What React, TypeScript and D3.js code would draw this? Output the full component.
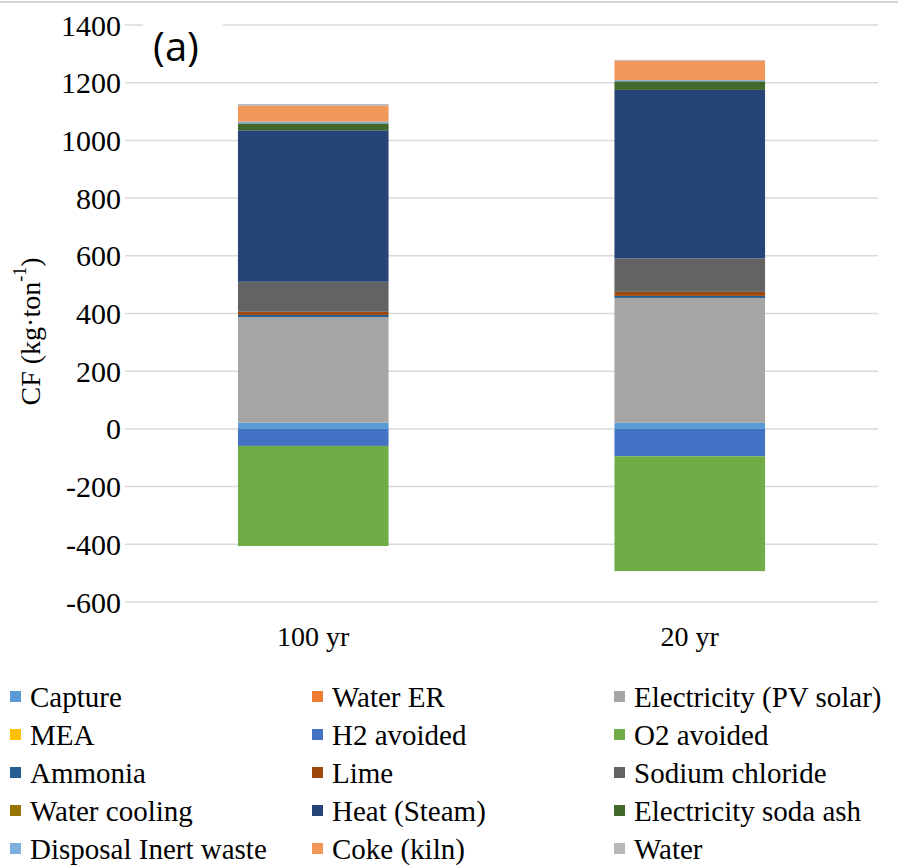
import React from "react";
import * as d3 from "d3";

// Scenarios (time horizons)
const categories = ["100 yr", "20 yr"];

// Contributors in stacking order, with their legend colours
const seriesNames = [
  "Capture",
  "Water ER",
  "Electricity (PV solar)",
  "MEA",
  "H2 avoided",
  "O2 avoided",
  "Ammonia",
  "Lime",
  "Sodium chloride",
  "Water cooling",
  "Heat (Steam)",
  "Electricity soda ash",
  "Disposal Inert waste",
  "Coke (kiln)",
  "Water",
];

const seriesColors = [
  "#5B9BD5",
  "#ED7D31",
  "#A5A5A5",
  "#FFC000",
  "#4472C4",
  "#70AD47",
  "#255E91",
  "#9E480E",
  "#636363",
  "#997300",
  "#264478",
  "#43682B",
  "#7CAFDD",
  "#F1975A",
  "#B7B7B7",
];

// CF contributions (kg·ton-1), one entry per scenario
const capture = [22, 21];
const waterER = [0, 0];
const electricityPV = [366, 433];
const mea = [0, 0];
const h2Avoided = [-59, -95];
const o2Avoided = [-347, -398];
const ammonia = [7, 7];
const lime = [11, 14];
const sodiumChloride = [104, 116];
const waterCooling = [0, 0];
const heatSteam = [525, 584];
const electricitySodaAsh = [24, 30];
const disposalInertWaste = [6, 4];
const cokeKiln = [55, 67];
const water = [6, 3];

const yTicks = [-600, -400, -200, 0, 200, 400, 600, 800, 1000, 1200, 1400];

const seriesValues = [
  capture,
  waterER,
  electricityPV,
  mea,
  h2Avoided,
  o2Avoided,
  ammonia,
  lime,
  sodiumChloride,
  waterCooling,
  heatSteam,
  electricitySodaAsh,
  disposalInertWaste,
  cokeKiln,
  water,
];

const W = 898;
const H = 866;
const plot = { left: 125, right: 878, top: 25, bottom: 602 };
const serif = "'Liberation Serif', serif";

export default function App() {
  const rows = categories.map((c, i) => {
    const r: Record<string, any> = { category: c };
    seriesNames.forEach((s, j) => (r[s] = seriesValues[j][i]));
    return r;
  });

  const stacked = d3
    .stack<Record<string, any>>()
    .keys(seriesNames)
    .offset(d3.stackOffsetDiverging)(rows);

  const x = d3
    .scaleBand<string>()
    .domain(categories)
    .range([plot.left, plot.right])
    .paddingInner(0.6)
    .paddingOuter(0.3);

  const y = d3
    .scaleLinear()
    .domain([-600, 1400])
    .range([plot.bottom, plot.top]);

  const legendCols = [10, 312, 614];
  const legendRow0 = 697;
  const legendStep = 38;

  return (
    <svg
      width={W}
      height={H}
      style={{ position: "absolute", left: 0, top: 0, background: "#fff" }}
    >
      <rect x={0} y={0} width={W} height={H} fill="#fff" />
      <line x1={0} x2={W} y1={2} y2={2} stroke="#c6c6c6" strokeWidth={1.5} />

      {/* gridlines */}
      {yTicks.map((t) => (
        <line
          key={t}
          x1={plot.left}
          x2={plot.right}
          y1={y(t)}
          y2={y(t)}
          stroke="#d9d9d9"
          strokeWidth={1.5}
        />
      ))}

      {/* y tick labels */}
      {yTicks.map((t) => (
        <text
          key={"l" + t}
          x={121}
          y={y(t)}
          textAnchor="end"
          dominantBaseline="central"
          fontFamily={serif}
          fontSize={30}
          fill="#000"
        >
          {t}
        </text>
      ))}

      {/* stacked bars */}
      {stacked.map((layer, j) => (
        <g key={layer.key} fill={seriesColors[j]}>
          {layer.map((d, i) => {
            const y0 = y(d[0]);
            const y1 = y(d[1]);
            const h = Math.abs(y0 - y1);
            if (h <= 0) return null;
            return (
              <rect
                key={i}
                x={x(categories[i])}
                width={x.bandwidth()}
                y={Math.min(y0, y1)}
                height={h}
              />
            );
          })}
        </g>
      ))}

      {/* panel label */}
      <rect x={143} y={14} width={80} height={40} fill="#fff" />
      <text
        x={176}
        y={45}
        textAnchor="middle"
        dominantBaseline="central"
        fontFamily="'Open Sans', 'Liberation Sans', sans-serif"
        fontSize={40}
        fill="#000"
      >
        (a)
      </text>

      {/* x labels */}
      {categories.map((c) => (
        <text
          key={c}
          x={(x(c) as number) + x.bandwidth() / 2}
          y={636}
          textAnchor="middle"
          dominantBaseline="central"
          fontFamily={serif}
          fontSize={28}
          fill="#000"
        >
          {c}
        </text>
      ))}

      {/* y axis title */}
      <text
        transform={`translate(30, ${y(400) + 18}) rotate(-90)`}
        textAnchor="middle"
        dominantBaseline="central"
        fontFamily={serif}
        fontSize={28}
        fill="#000"
      >
        CF (kg·ton
        <tspan baselineShift="super" fontSize={18}>
          -1
        </tspan>
        )
      </text>

      {/* legend */}
      {seriesNames.map((s, j) => {
        const col = j % 3;
        const row = Math.floor(j / 3);
        const lx = legendCols[col];
        const ly = legendRow0 + row * legendStep;
        return (
          <g key={s}>
            <rect x={lx} y={ly - 6} width={11} height={11} fill={seriesColors[j]} />
            <text
              x={lx + 20}
              y={ly}
              dominantBaseline="central"
              fontFamily={serif}
              fontSize={29}
              fill="#000"
            >
              {s}
            </text>
          </g>
        );
      })}
    </svg>
  );
}
